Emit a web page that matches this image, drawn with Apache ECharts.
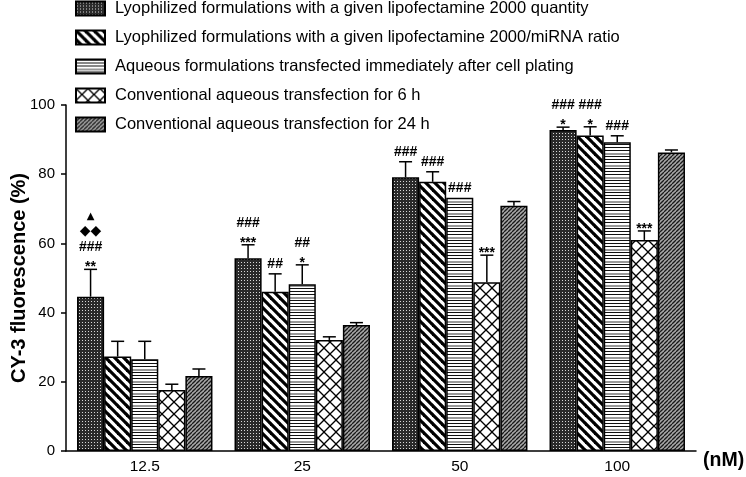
<!DOCTYPE html>
<html>
<head>
<meta charset="utf-8">
<script src="https://cdn.jsdelivr.net/npm/echarts@6/dist/echarts.min.js"></script>
<style>html,body{margin:0;padding:0;background:#fff}#c{width:746px;height:477px}</style>
</head>
<body>
<div id="c"></div>
<script>
const categories = ['12.5', '25', '50', '100'];
const seriesNames = [
  'Lyophilized formulations with a given lipofectamine 2000 quantity',
  'Lyophilized formulations with a given lipofectamine 2000/miRNA ratio',
  'Aqueous formulations transfected immediately after cell plating',
  'Conventional aqueous transfection for 6 h',
  'Conventional aqueous transfection for 24 h'
];
const meanLyoQty   = [44.6, 55.7, 79.1, 92.8];
const meanLyoRatio = [27.3, 46.0, 77.8, 91.2];
const meanAqImm    = [26.5, 48.2, 73.2, 89.2];
const meanConv6h   = [17.6, 32.1, 48.8, 61.0];
const meanConv24h  = [21.7, 36.4, 70.9, 86.3];
const sdLyoQty   = [7.9, 3.9, 4.5, 0.8];
const sdLyoRatio = [4.4, 5.2, 2.9, 2.5];
const sdAqImm    = [5.2, 5.6, 0.0, 1.9];
const sdConv6h   = [1.7, 0.9, 7.8, 2.6];
const sdConv24h  = [2.0, 0.7, 1.2, 0.7];
const markLyoQty   = [['**', '###', '◆◆', '▲'], ['***', '###'], ['###'], ['*', '###']];
const markLyoRatio = [[], ['##'], ['###'], ['*', '###']];
const markAqImm    = [[], ['*', '##'], ['###'], ['###']];
const markConv6h   = [[], [], ['***'], ['***']];
const markConv24h  = [[], [], [], []];
const yTicks = [0, 20, 40, 60, 80, 100];

const means = [meanLyoQty, meanLyoRatio, meanAqImm, meanConv6h, meanConv24h];
const sds = [sdLyoQty, sdLyoRatio, sdAqImm, sdConv6h, sdConv24h];
const marks = [markLyoQty, markLyoRatio, markAqImm, markConv6h, markConv24h];

function makeCanvas(w, h, draw) {
  const c = document.createElement('canvas');
  c.width = w; c.height = h;
  draw(c.getContext('2d'), w, h);
  return c;
}
const patterns = [
  makeCanvas(3, 3, (g) => { g.fillStyle = '#2a2a2a'; g.fillRect(0, 0, 3, 3); g.fillStyle = '#d8d8d8'; g.fillRect(1, 1, 1, 1); }),
  makeCanvas(9, 9, (g) => {
    g.fillStyle = '#fff'; g.fillRect(0, 0, 9, 9);
    g.strokeStyle = '#000'; g.lineWidth = 3.2;
    for (const o of [-9, 0, 9]) { g.beginPath(); g.moveTo(o - 1, -1); g.lineTo(o + 10, 10); g.stroke(); }
  }),
  makeCanvas(4, 12, (g) => {
    g.fillStyle = '#fff'; g.fillRect(0, 0, 4, 12);
    g.fillStyle = '#111'; g.fillRect(0, 0, 4, 1); g.fillRect(0, 3, 4, 1); g.fillRect(0, 6, 4, 1);
    g.fillStyle = '#999'; g.fillRect(0, 9, 4, 2);
  }),
  makeCanvas(12, 12, (g) => {
    g.fillStyle = '#fff'; g.fillRect(0, 0, 12, 12);
    g.strokeStyle = '#000'; g.lineWidth = 1.3;
    for (const o of [-12, 0, 12]) {
      g.beginPath(); g.moveTo(o, 0); g.lineTo(o + 12, 12); g.stroke();
      g.beginPath(); g.moveTo(o + 12, 0); g.lineTo(o, 12); g.stroke();
    }
  }),
  makeCanvas(4, 4, (g) => {
    g.fillStyle = '#a8a8a8'; g.fillRect(0, 0, 4, 4);
    g.strokeStyle = '#1a1a1a'; g.lineWidth = 1.3;
    for (const o of [-4, 0, 4]) { g.beginPath(); g.moveTo(o, 4); g.lineTo(o + 4, 0); g.stroke(); }
  })
];

const FONT = '"Liberation Sans", Arial, "DejaVu Sans", sans-serif';
const SYMFONT = '"DejaVu Sans", sans-serif';
const nS = seriesNames.length;
const catGap = 0.14;

const barSeries = seriesNames.map((name, i) => ({
  name,
  type: 'bar',
  barGap: '0%',
  barCategoryGap: (catGap * 100) + '%',
  data: means[i],
  itemStyle: { color: { image: patterns[i], repeat: 'repeat' }, borderColor: '#000', borderWidth: 1.5 },
  emphasis: { disabled: true },
  z: 2
}));

const errData = [];
for (let s = 0; s < nS; s++) for (let c = 0; c < categories.length; c++) errData.push([c, s]);

const errSeries = {
  type: 'custom',
  data: errData,
  z: 5,
  silent: true,
  renderItem(params, api) {
    const c = api.value(0), s = api.value(1);
    const band = api.size([1, 0])[0];
    const bw = band * (1 - catGap) / nS;
    const cx = api.coord([c, 0])[0] + (s - (nS - 1) / 2) * bw;
    const yTop = api.coord([c, means[s][c]])[1];
    const yErr = api.coord([c, means[s][c] + sds[s][c]])[1];
    const children = [];
    if (sds[s][c] > 0) {
      children.push({ type: 'line', shape: { x1: cx, y1: yTop, x2: cx, y2: yErr }, style: { stroke: '#000', lineWidth: 1.5 } });
      children.push({ type: 'line', shape: { x1: cx - 6.5, y1: yErr, x2: cx + 6.5, y2: yErr }, style: { stroke: '#000', lineWidth: 1.5 } });
    }
    const lines = marks[s][c];
    let vc = null;
    lines.forEach((t, i) => {
      const isStar = t[0] === '*';
      if (i === 0) vc = yErr - (isStar ? 6 : 10);
      else vc -= (t === '▲' ? 15 : 16);
      let fs = 14, off = 0, fw = 'bold', ff = FONT;
      if (isStar) { fs = 14; off = 4; }
      else if (t[0] === '◆') { fs = 14; off = 0; fw = 'normal'; ff = SYMFONT; }
      else if (t === '▲') { fs = 10; off = 0; fw = 'normal'; ff = SYMFONT; }
      children.push({
        type: 'text',
        style: {
          text: t, x: cx, y: vc + off, align: 'center', verticalAlign: 'middle',
          fontSize: fs, fontWeight: fw, fontFamily: ff, fill: '#000'
        }
      });
    });
    return { type: 'group', children };
  }
};

const chart = echarts.init(document.getElementById('c'));
chart.setOption({
  animation: false,
  backgroundColor: '#fff',
  grid: { left: 66, right: 50, top: 105, bottom: 26, containLabel: false, outerBoundsMode: 'none' },
  legend: {
    orient: 'vertical', left: 75, top: 0, padding: 0, itemWidth: 29, itemHeight: 14, itemGap: 12,
    icon: 'rect', selectedMode: false,
    data: seriesNames,
    textStyle: { fontSize: 16.5, lineHeight: 16, fontFamily: FONT, color: '#000', padding: [0, 0, 0, 5] }
  },
  xAxis: {
    type: 'category', data: categories,
    axisLine: { lineStyle: { color: '#000', width: 1.5 } },
    axisTick: { alignWithLabel: true, length: 5, lineStyle: { color: '#000', width: 1.5 } },
    axisLabel: { fontSize: 15.5, fontFamily: FONT, color: '#000', margin: 8 },
    name: '(nM)', nameLocation: 'end', nameGap: 7,
    nameTextStyle: { fontSize: 19.5, fontWeight: 'bold', fontFamily: FONT, color: '#000', verticalAlign: 'top', padding: [0, 0, 0, 0] }
  },
  yAxis: {
    type: 'value', min: yTicks[0], max: yTicks[yTicks.length - 1], interval: yTicks[1] - yTicks[0],
    axisLine: { show: true, lineStyle: { color: '#000', width: 1.5 } },
    axisTick: { show: true, length: 5, lineStyle: { color: '#000', width: 1.5 } },
    splitLine: { show: false },
    axisLabel: { fontSize: 15, fontFamily: FONT, color: '#000', margin: 11 },
    name: 'CY-3 fluorescence (%)', nameLocation: 'middle', nameGap: 37, nameMoveOverlap: false,
    nameTextStyle: { fontSize: 20, fontWeight: 'bold', fontFamily: FONT, color: '#000' }
  },
  series: [...barSeries, errSeries]
});
</script>
</body>
</html>
